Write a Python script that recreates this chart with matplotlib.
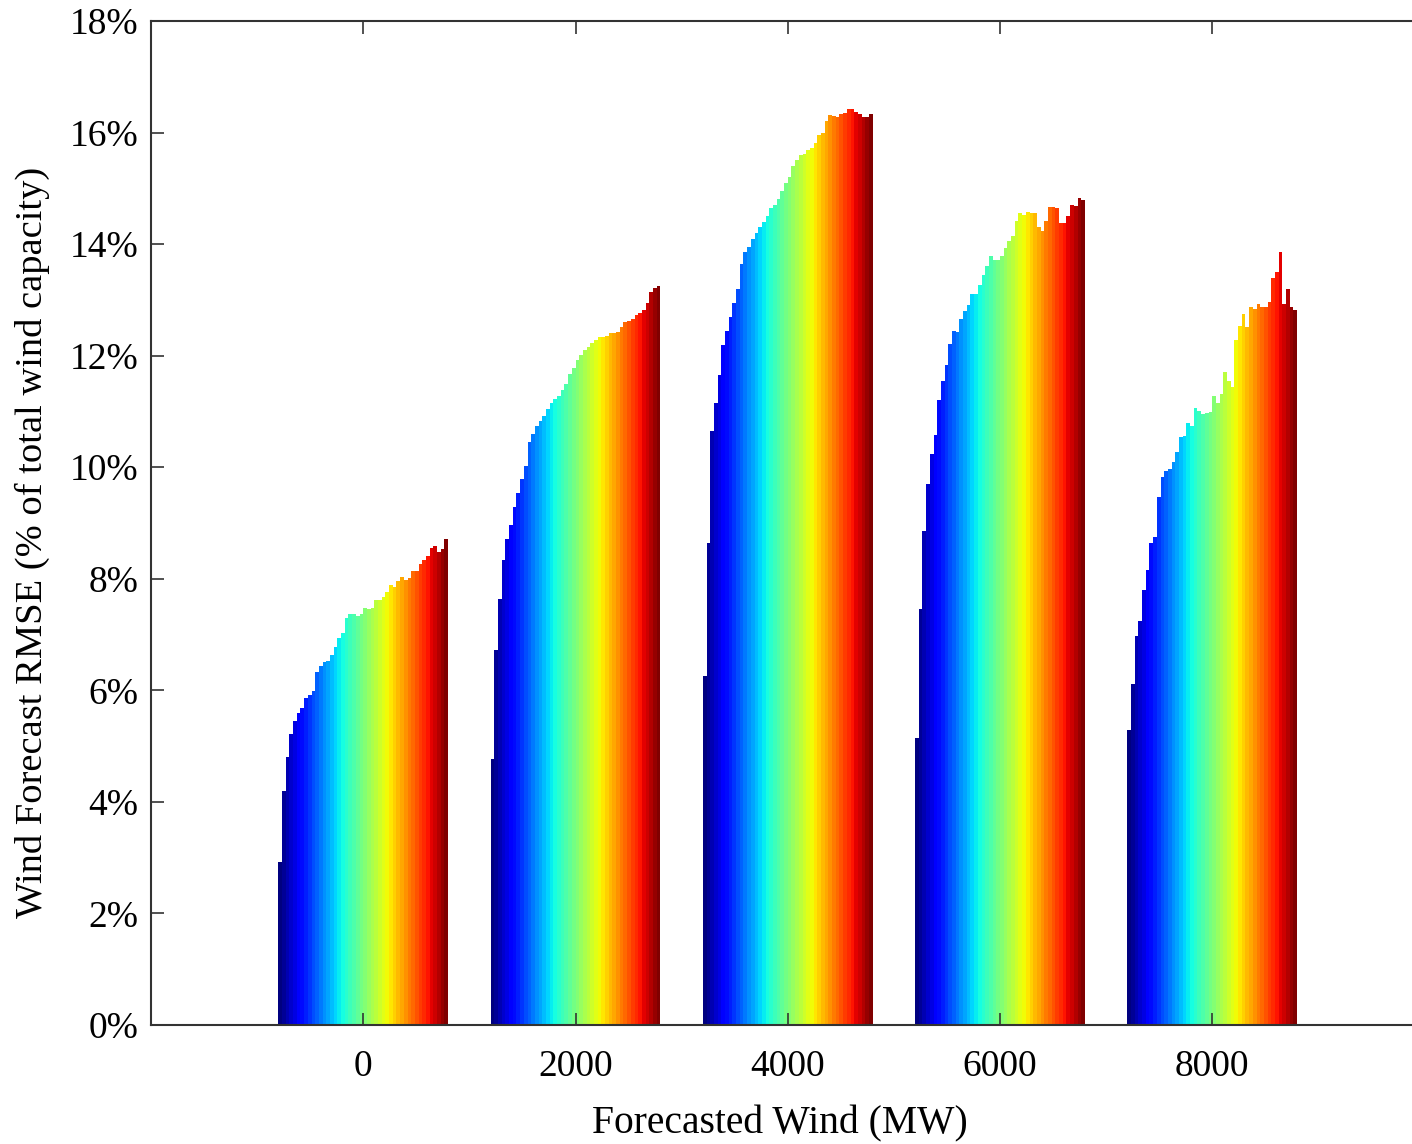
import numpy as np
import matplotlib
matplotlib.use("Agg")
import matplotlib.pyplot as plt
from matplotlib.ticker import FuncFormatter

# Forecasted wind levels (MW)
forecast_levels = [0, 2000, 4000, 6000, 8000]

# RMSE (% of total wind capacity), one list per forecast level, 46 series each
rmse_0 = [2.93, 4.20, 4.81, 5.21, 5.45, 5.60, 5.69, 5.87, 5.92, 5.99,
          6.33, 6.44, 6.51, 6.53, 6.63, 6.78, 6.93, 7.02, 7.29, 7.37,
          7.37, 7.34, 7.37, 7.47, 7.45, 7.47, 7.62, 7.62, 7.67, 7.77,
          7.89, 7.86, 7.96, 8.04, 7.97, 8.01, 8.14, 8.14, 8.26, 8.34,
          8.41, 8.55, 8.59, 8.48, 8.53, 8.72]
rmse_2000 = [4.76, 6.73, 7.64, 8.34, 8.71, 8.97, 9.29, 9.53, 9.78, 10.03,
             10.45, 10.59, 10.74, 10.83, 10.92, 11.04, 11.16, 11.23, 11.28, 11.38,
             11.50, 11.67, 11.77, 11.92, 12.01, 12.10, 12.16, 12.23, 12.28, 12.34,
             12.34, 12.36, 12.41, 12.41, 12.43, 12.51, 12.61, 12.62, 12.65, 12.73,
             12.76, 12.81, 12.94, 13.15, 13.22, 13.25]
rmse_4000 = [6.25, 8.65, 10.65, 11.15, 11.65, 12.20, 12.45, 12.70, 12.95, 13.20,
             13.65, 13.85, 13.95, 14.10, 14.20, 14.30, 14.40, 14.50, 14.65, 14.70,
             14.80, 14.95, 15.10, 15.20, 15.40, 15.50, 15.60, 15.62, 15.68, 15.72,
             15.82, 15.95, 16.00, 16.20, 16.32, 16.30, 16.28, 16.33, 16.35, 16.42,
             16.42, 16.36, 16.33, 16.28, 16.28, 16.33]
rmse_6000 = [5.15, 7.45, 8.85, 9.70, 10.24, 10.58, 11.21, 11.54, 11.84, 12.21,
             12.45, 12.43, 12.65, 12.80, 12.90, 13.10, 13.10, 13.27, 13.45, 13.61,
             13.78, 13.72, 13.72, 13.78, 13.93, 14.05, 14.15, 14.41, 14.56, 14.52,
             14.58, 14.55, 14.56, 14.31, 14.23, 14.41, 14.67, 14.67, 14.65, 14.38,
             14.38, 14.50, 14.71, 14.69, 14.82, 14.79]
rmse_8000 = [5.28, 6.11, 6.97, 7.25, 7.79, 8.16, 8.65, 8.75, 9.46, 9.83,
             9.93, 9.97, 10.10, 10.27, 10.54, 10.56, 10.79, 10.74, 11.06, 11.01,
             10.95, 10.98, 10.99, 11.28, 11.16, 11.32, 11.71, 11.55, 11.43, 12.28,
             12.53, 12.75, 12.51, 12.87, 12.83, 12.92, 12.88, 12.88, 12.96, 13.39,
             13.50, 13.86, 12.93, 13.19, 12.88, 12.81]

ytick_vals = [0, 2, 4, 6, 8, 10, 12, 14, 16, 18]

data = np.array([rmse_0, rmse_2000, rmse_4000, rmse_6000, rmse_8000])
n_groups, n_series = data.shape

plt.rcParams['font.family'] = ['Liberation Serif', 'DejaVu Serif']

W, H = 1412, 1144
fig = plt.figure(figsize=(W / 100, H / 100), dpi=100)
ax_left, ax_right, ax_top, ax_bot = 151, 1424.5, 21, 1025
ax = fig.add_axes([ax_left / W, (H - ax_bot) / H, (ax_right - ax_left) / W, (ax_bot - ax_top) / H])

spacing = forecast_levels[1] - forecast_levels[0]
group_width = 0.8 * spacing
bw = group_width / n_series
cmap = plt.get_cmap('jet')
colors = [cmap(i / (n_series - 1)) for i in range(n_series)]
x = np.array(forecast_levels, dtype=float)
for k in range(n_series):
    offs = (k - (n_series - 1) / 2) * bw
    ax.bar(x + offs, data[:, k], width=bw, color=colors[k], edgecolor='none', linewidth=0)

ax.set_xlim(-2000, 10000)
ax.set_ylim(0, 18)
ax.set_xticks(forecast_levels)
ax.set_xticklabels([str(v) for v in forecast_levels])
ax.set_yticks(ytick_vals)
ax.yaxis.set_major_formatter(FuncFormatter(lambda v, p: f"{int(round(v))}%"))

ax.tick_params(axis='both', direction='in', length=9, width=1.2, color='#333333',
               labelsize=27, top=True, right=True)
ax.tick_params(axis='x', pad=18)
ax.tick_params(axis='y', pad=9)
for s in ax.spines.values():
    s.set_color('#333333')
    s.set_linewidth(1.5)

ax.set_xlabel('Forecasted Wind (MW)', fontsize=28.5)
ax.set_ylabel('Wind Forecast RMSE (% of total wind capacity)', fontsize=27.7)

ax_w = ax_right - ax_left
ax_h = ax_bot - ax_top
ax.xaxis.set_label_coords(0.4937, -(1124 - ax_bot) / ax_h)
ax.xaxis.label.set_verticalalignment('center')
ax.yaxis.set_label_coords(-(151 - 32) / ax_w, 0.481)
ax.yaxis.label.set_verticalalignment('center')
ax.yaxis.label.set_horizontalalignment('center')

fig.savefig('out.png', dpi=100)
